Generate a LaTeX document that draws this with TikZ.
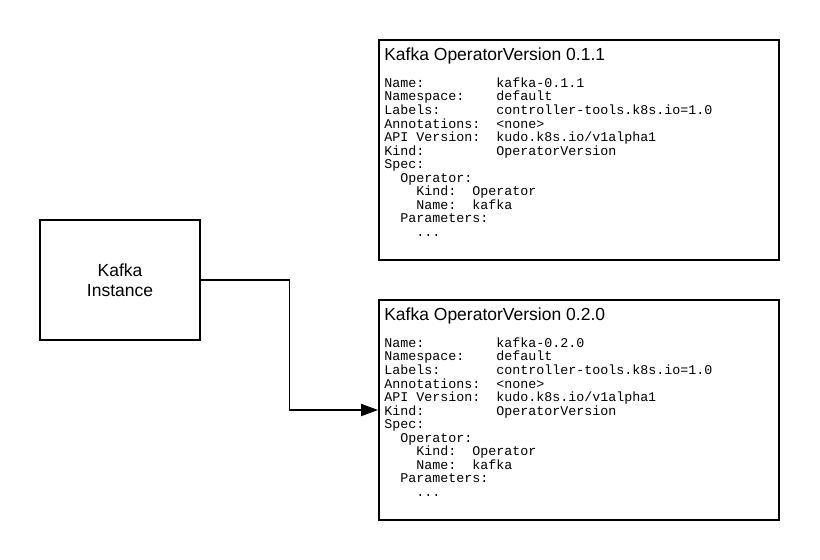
\documentclass[tikz,border=0pt]{standalone}
\usepackage{fontspec}
\setmainfont{Liberation Sans}
\setmonofont{Liberation Mono}
\usepackage{tikz}
\usetikzlibrary{
  arrows.meta,
  calc,
  positioning,
}
\tikzstyle{ovbox} = [
  rectangle,
  draw,
  line width=1.8pt,
]
\tikzstyle{arrow} = [
  -{Triangle[length=17pt,width=12pt]},
  line width=1.8pt,
]
\tikzstyle{ovtitle} = [anchor=base west,inner sep=0,font=\fontsize{17.5}{20}\selectfont]
\tikzstyle{ovspec} = [anchor=base west,inner sep=0,font=\fontsize{13.33}{13.33}\selectfont\ttfamily]
\newcommand{\ovspecbody}[1]{%
  \begin{tabular}[t]{@{}p{112pt}@{}l@{}}
    Name: & kafka-#1\\
    Namespace: & default\\
    Labels: & controller-tools.k8s.io=1.0\\
    Annotations: & <none>\\
    API Version: & kudo.k8s.io/v1alpha1\\
    Kind: & OperatorVersion\\
    Spec: & \\
    \multicolumn{2}{@{}l@{}}{\ \ Operator:}\\
    \multicolumn{2}{@{}l@{}}{\ \ \ \ Kind:\ \ Operator}\\
    \multicolumn{2}{@{}l@{}}{\ \ \ \ Name:\ \ kafka}\\
    \multicolumn{2}{@{}l@{}}{\ \ Parameters:}\\
    \multicolumn{2}{@{}l@{}}{\ \ \ \ ...}
  \end{tabular}}

\begin{document}
\begin{tikzpicture}[x=1pt,y=-1pt]
			\useasboundingbox (0,0) rectangle (820,560);

			\node[ovbox,minimum width=160,minimum height=120,align=center,font=\fontsize{17.5}{20}\selectfont] (instance) at (120,280) {Kafka\\Instance};

			\node[ovbox,minimum width=400,minimum height=220] (ov1) at (579,150) {};
			\node[ovbox,minimum width=400,minimum height=220] (ov2) at (579,410) {};

			\node[ovtitle,xshift=6,yshift=-21] (ov1title) at (ov1.north west) {Kafka OperatorVersion 0.1.1};
			\node[ovspec,yshift=-27] (ov1spec) at (ov1title.base west) {\ovspecbody{0.1.1}};

			\node[ovtitle,xshift=6,yshift=-21] (ov2title) at (ov2.north west) {Kafka OperatorVersion 0.2.0};
			\node[ovspec,yshift=-27] (ov2spec) at (ov2title.base west) {\ovspecbody{0.2.0}};

			\draw[arrow] (instance.east) -| ($(instance.east)!0.5!(ov2.west)$) |- (ov2.west);
		\end{tikzpicture}
\end{document}
